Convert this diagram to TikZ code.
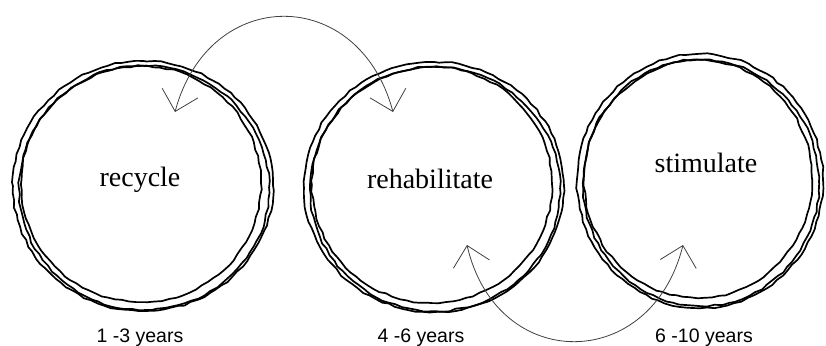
\documentclass[tikz,border=0pt]{standalone}
\usepackage{fontspec}
\setmainfont{Liberation Serif}
\newfontfamily\yearsfont{Liberation Sans}
\usetikzlibrary{calc}
\usetikzlibrary{arrows.meta}
\usetikzlibrary{decorations.pathmorphing}

\begin{document}
\begin{tikzpicture}[x=1pt,y=1pt,inner sep=0pt,
  ring/.style={line width=1.7pt,decorate,decoration={random steps,segment length=7pt,amplitude=0.9pt}},
  cycle arrow/.style={line width=0.8pt,black!75,{Straight Barb[length=19pt,width=37pt]}-{Straight Barb[length=19pt,width=37pt]}},
  stage/.style={font=\fontsize{28}{30}\selectfont},
  span/.style={font=\yearsfont\fontsize{19.5}{22}\selectfont}]
\pgfmathsetseed{11}
\useasboundingbox (0,0) rectangle (826,-345);
\coordinate (c1) at (143,-186);
\coordinate (c2) at (434,-187);
\coordinate (c3) at (700,-181);

\draw[ring] (c1) ellipse [x radius=130,y radius=125];
\draw[ring] ($(c1)+(-2,2)$) ellipse [x radius=120,y radius=118];
\draw[ring] ($(c1)+(1,-2)$) ellipse [x radius=125,y radius=122];
\draw[ring] (c2) ellipse [x radius=130,y radius=125];
\draw[ring] ($(c2)+(-2,2)$) ellipse [x radius=120,y radius=118];
\draw[ring] ($(c2)+(1,-2)$) ellipse [x radius=125,y radius=122];
\draw[ring] (c3) ellipse [x radius=123,y radius=127];
\draw[ring] ($(c3)+(-2,2)$) ellipse [x radius=114,y radius=119];
\draw[ring] ($(c3)+(1,-2)$) ellipse [x radius=118,y radius=123];

\node[stage,anchor=base] (recycle) at (140,-186) {recycle};
\node[stage,anchor=base] (rehab) at (430,-188) {rehabilitate};
\node[stage,anchor=base] (stim) at (706,-172) {stimulate};

\node[span,anchor=base] (y1) at (140,-342) {1 -3 years};
\node[span,anchor=base] (y2) at (421,-342) {4 -6 years};
\node[span,anchor=base] (y3) at (704,-342) {6 -10 years};

\coordinate (t1) at (175,-112);
\coordinate (t2) at (393,-112);
\coordinate (b1) at (467,-245);
\coordinate (b2) at (683,-245);
\draw[cycle arrow] (t1) to[out=75,in=105,looseness=1.55] (t2);
\draw[cycle arrow] (b1) to[out=-77,in=-104,looseness=1.57] (b2);
\end{tikzpicture}
\end{document}
